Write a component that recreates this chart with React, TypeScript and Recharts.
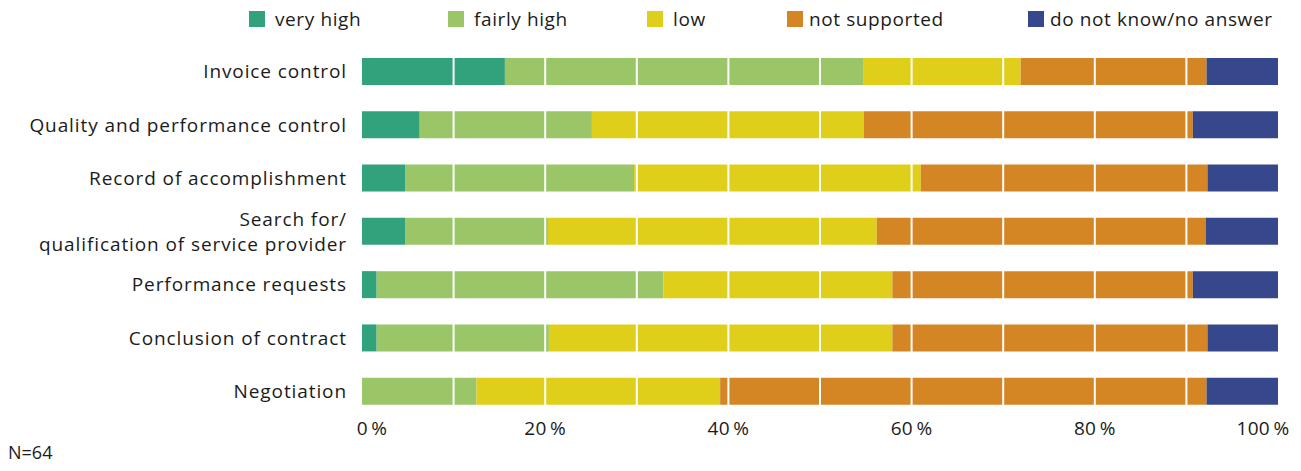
import React from "react";
import {
  Bar,
  BarChart,
  ReferenceLine,
  XAxis,
  YAxis,
} from "recharts";

// survey items, top to bottom
const categories = [
  "Invoice control",
  "Quality and performance control",
  "Record of accomplishment",
  "Search for/\nqualification of service provider",
  "Performance requests",
  "Conclusion of contract",
  "Negotiation",
];

// share of answers in %, N=64
const veryHigh = [15.6, 6.3, 4.7, 4.7, 1.6, 1.6, 0];
const fairlyHigh = [39.1, 18.8, 25.0, 15.6, 31.3, 18.8, 12.5];
const low = [17.2, 29.7, 31.3, 35.9, 25.0, 37.5, 26.6];
const notSupported = [20.3, 35.9, 31.3, 35.9, 32.8, 34.4, 53.1];
const noAnswer = [7.8, 9.4, 7.8, 7.9, 9.4, 7.8, 7.8];

const xTicks = [0, 20, 40, 60, 80, 100];
const gridSteps = [10, 20, 30, 40, 50, 60, 70, 80, 90];

const series = [
  { key: "veryHigh", label: "very high", color: "#31a27b", values: veryHigh },
  { key: "fairlyHigh", label: "fairly high", color: "#9ac667", values: fairlyHigh },
  { key: "low", label: "low", color: "#e0cf1a", values: low },
  { key: "notSupported", label: "not supported", color: "#d48524", values: notSupported },
  { key: "noAnswer", label: "do not know/no answer", color: "#36488b", values: noAnswer },
];

const data = categories.map((name, i) => {
  const row: Record<string, string | number> = { name };
  series.forEach((s) => {
    row[s.key] = s.values[i];
  });
  return row;
});

const FONT = "'Open Sans', 'Noto Sans', sans-serif";
const TEXT = "#1b1b1b";

// legend square positions along the top row
const legendLeft = [241, 440, 639, 779, 1020];

function YTick({ x, y, payload }: any) {
  const lines = String(payload.value).split("\n");
  const lh = 25;
  const y0 = y - ((lines.length - 1) * lh) / 2;
  return (
    <text
      x={x}
      y={y0}
      textAnchor="end"
      fontSize={19}
      fontFamily={FONT}
      letterSpacing={0.9}
      fill={TEXT}
    >
      {lines.map((l, i) => (
        <tspan key={i} x={x} y={y0 + i * lh} dy="0.35em">
          {l}
        </tspan>
      ))}
    </text>
  );
}

function XTick({ x, y, payload }: any) {
  const v = payload.value;
  const shift = v === 0 ? 10 : v === 100 ? -15 : 0;
  return (
    <text
      x={x + shift}
      y={y + 10}
      dy="0.35em"
      textAnchor="middle"
      fontSize={19}
      fontFamily={FONT}
      letterSpacing={0.3}
      fill={TEXT}
    >
      {`${v}\u2009%`}
    </text>
  );
}

export default function App() {
  return (
    <div style={{ position: "relative", width: 1285, height: 455, fontFamily: FONT }}>
      {series.map((s, i) => (
        <div
          key={s.key}
          style={{
            position: "absolute",
            left: legendLeft[i],
            top: 0,
            height: 22,
            display: "flex",
            alignItems: "center",
            fontSize: 19,
            letterSpacing: 0.6,
            color: TEXT,
            whiteSpace: "nowrap",
          }}
        >
          <span
            style={{
              display: "inline-block",
              width: 16,
              height: 16,
              background: s.color,
              marginRight: i < 3 ? 10 : 6,
            }}
          />
          {s.label}
        </div>
      ))}
      <BarChart
        width={1285}
        height={445}
        data={data}
        layout="vertical"
        margin={{ top: 37, right: 15, left: 0, bottom: 0 }}
      >
        <XAxis
          type="number"
          domain={[0, 100]}
          allowDataOverflow
          ticks={xTicks}
          axisLine={false}
          tickLine={false}
          tickSize={0}
          tickMargin={0}
          height={35}
          tick={<XTick />}
          interval={0}
        />
        <YAxis
          type="category"
          dataKey="name"
          width={354}
          axisLine={false}
          tickLine={false}
          tickSize={0}
          tickMargin={15}
          tick={<YTick />}
          interval={0}
        />
        {series.map((s) => (
          <Bar
            key={s.key}
            dataKey={s.key}
            name={s.label}
            stackId="a"
            fill={s.color}
            barSize={27}
            isAnimationActive={false}
          />
        ))}
        {gridSteps.map((v) => (
          <ReferenceLine key={v} x={v} stroke="#ffffff" strokeWidth={2} />
        ))}
      </BarChart>
      <div
        style={{
          position: "absolute",
          left: 0,
          top: 434,
          fontSize: 18,
          lineHeight: "20px",
          color: TEXT,
        }}
      >
        N=64
      </div>
    </div>
  );
}
